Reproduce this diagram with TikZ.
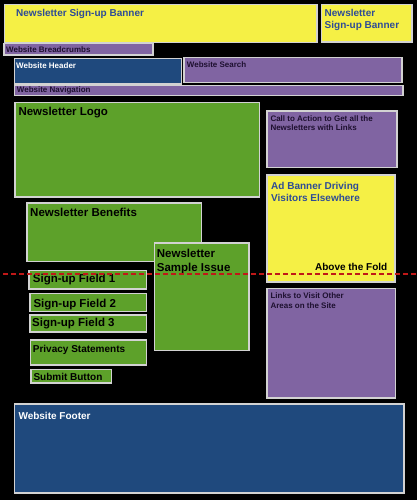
\documentclass[tikz,border=0pt]{standalone}
\usepackage{fontspec}
\setmainfont{Liberation Sans}
\usepackage{tikz}
\usetikzlibrary{positioning}

\definecolor{bannerYellow}{HTML}{F5F045}
\definecolor{webPurple}{HTML}{8064A2}
\definecolor{webBlue}{HTML}{1F497D}
\definecolor{contentGreen}{HTML}{5DA12A}
\definecolor{bannerText}{HTML}{2E4C96}
\definecolor{purpleText}{HTML}{1E1030}
\definecolor{edgeGray}{HTML}{D2D2D2}
\definecolor{foldRed}{HTML}{C01818}

\tikzset{
    blockbox/.style={draw=edgeGray, line width=1.3pt},
    lbl/.style={anchor=base west, inner sep=0pt, font=\bfseries},
}

\begin{document}
\begin{tikzpicture}[x=1pt, y=-1pt]

    % --- background ---
    \fill[black] (0,0) rectangle (417,500);
    \useasboundingbox (0,0) rectangle (417,500);

    % --- Top: Banners ---
    \draw[blockbox, fill=bannerYellow] (4.5,4.5) rectangle (317,42.5);
    \node[lbl, bannerText, font=\fontsize{10}{12}\bfseries] (bannerMain) at (16,16.7) {Newsletter Sign-up Banner};

    % (multi-line labels: base = last line)
    \draw[blockbox, fill=bannerYellow] (321.5,4.5) rectangle (412,42);
    \node[lbl, bannerText, font=\fontsize{10}{12.3}\bfseries, align=left] (bannerSide) at (324.5,29) {Newsletter\\Sign-up Banner};

    % --- Website chrome ---
    \draw[blockbox, fill=webPurple] (4,43.5) rectangle (153,55);
    \node[lbl, purpleText, font=\fontsize{8}{9}\bfseries] (breadcrumbs) at (6,52.7) {Website Breadcrumbs};

    \draw[blockbox, fill=webBlue] (14.5,58.5) rectangle (181.5,84);
    \node[lbl, white, font=\fontsize{8}{9}\bfseries] (header) at (16,68.3) {Website Header};

    \draw[blockbox, fill=webPurple] (184,57.5) rectangle (402,82.5);
    \node[lbl, purpleText, font=\fontsize{8}{9}\bfseries] (search) at (186.7,67.7) {Website Search};

    \draw[blockbox, fill=webPurple] (14.5,85.5) rectangle (403,95.5);
    \node[lbl, purpleText, font=\fontsize{8}{9}\bfseries] (navigation) at (16.7,93) {Website Navigation};

    % --- Main content (green) ---
    \draw[blockbox, fill=contentGreen] (15,102.5) rectangle (259.5,197);
    \node[lbl, black, font=\fontsize{11.5}{13.8}\bfseries] (logo) at (18.3,116) {Newsletter Logo};

    \draw[blockbox, fill=contentGreen] (27,203) rectangle (201.5,261.5);
    \node[lbl, black, font=\fontsize{11.5}{13.8}\bfseries] (benefits) at (30,216.3) {Newsletter Benefits};

    \draw[blockbox, fill=contentGreen] (154.5,243) rectangle (249,350.5);
    \node[lbl, black, font=\fontsize{11.5}{13.4}\bfseries, align=left] (sample) at (156.7,271) {Newsletter\\Sample Issue};

    \draw[blockbox, fill=contentGreen] (29,270.5) rectangle (146.5,289);
    \node[lbl, black, font=\fontsize{11.5}{13.8}\bfseries] (field1) at (32.7,282.7) {Sign-up Field 1};

    \draw[blockbox, fill=contentGreen] (30,293.5) rectangle (146.5,311.5);
    \node[lbl, black, font=\fontsize{11.5}{13.8}\bfseries] (field2) at (33.3,307.7) {Sign-up Field 2};

    \draw[blockbox, fill=contentGreen] (30,315) rectangle (146.5,332);
    \node[lbl, black, font=\fontsize{11.5}{13.8}\bfseries] (field3) at (32,326.3) {Sign-up Field 3};

    \draw[blockbox, fill=contentGreen] (30.5,340) rectangle (146.5,365);
    \node[lbl, black, font=\fontsize{10}{12}\bfseries] (privacy) at (32.7,352.7) {Privacy Statements};

    \draw[blockbox, fill=contentGreen] (31,369.5) rectangle (111.5,383);
    \node[lbl, black, font=\fontsize{10}{12}\bfseries] (submit) at (33.3,380) {Submit Button};

    % --- Right column ---
    \draw[blockbox, fill=webPurple] (267,111) rectangle (397,167.5);
    \node[lbl, purpleText, font=\fontsize{8}{9}\bfseries, align=left] (callToAction) at (270.3,130.7) {Call to Action to Get all the\\Newsletters with Links};

    \draw[blockbox, fill=bannerYellow] (267,175) rectangle (395,282);
    \node[lbl, bannerText, font=\fontsize{10}{11.7}\bfseries, align=left] (adBanner) at (271,201) {Ad Banner Driving\\Visitors Elsewhere};
    \node[anchor=base east, inner sep=0pt, black, font=\fontsize{10}{12}\bfseries] (foldLabel) at (387.5,270) {Above the Fold};

    \draw[blockbox, fill=webPurple] (267,288.5) rectangle (395.5,398);
    \node[lbl, purpleText, font=\fontsize{8}{9.3}\bfseries, align=left] (otherLinks) at (270.3,308) {Links to Visit Other\\Areas on the Site};

    % --- Footer ---
    \draw[blockbox, fill=webBlue] (14.5,404) rectangle (404,493);
    \node[lbl, white, font=\fontsize{10}{12}\bfseries] (footer) at (18.3,419.7) {Website Footer};

    % --- Fold line ---
    \coordinate (foldL) at (3,274);
    \coordinate (foldR) at (417,274);
    \draw[foldRed, line width=1.3pt, dash pattern=on 5pt off 3pt] (foldL) -- (foldR);

\end{tikzpicture}
\end{document}
